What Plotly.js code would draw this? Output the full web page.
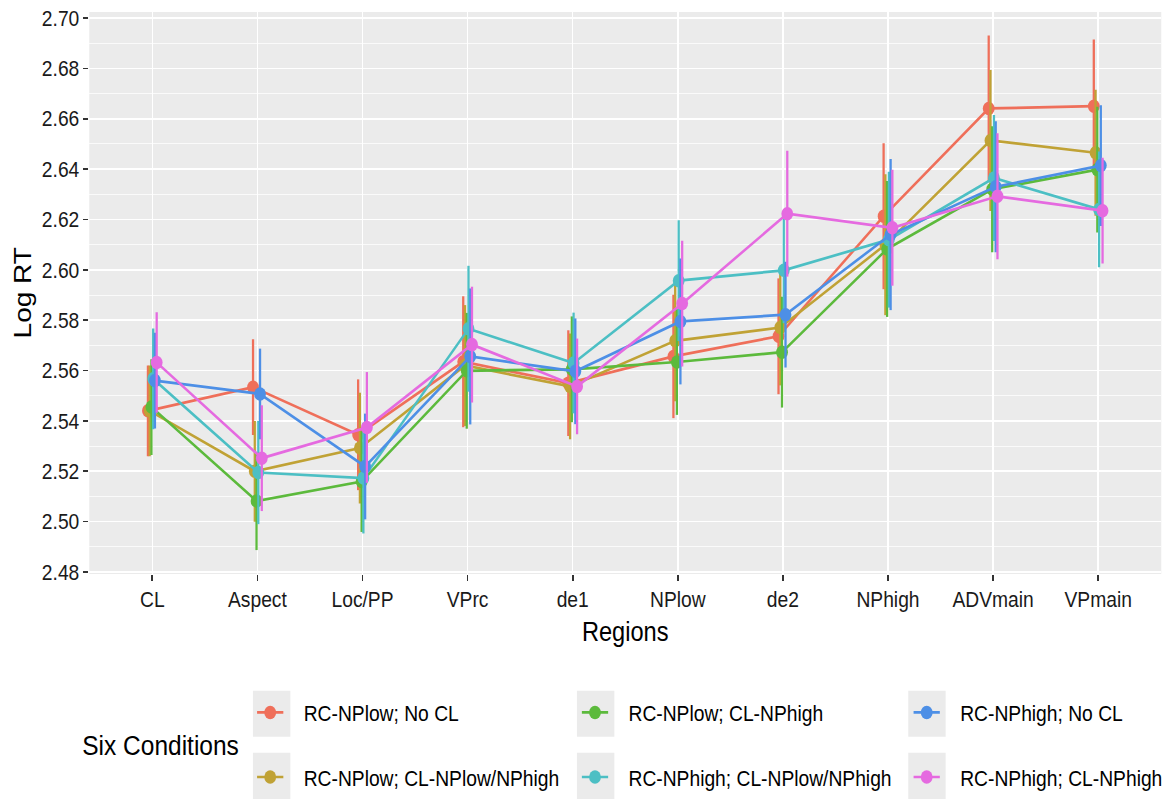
<!DOCTYPE html>
<html>
<head>
<meta charset="utf-8">
<script src="https://cdn.plot.ly/plotly-3.0.1.min.js"></script>
<style>
html,body{margin:0;padding:0;background:#fff;overflow:hidden;width:1170px;height:806px;}
#chart{width:1337px;height:806px;transform:scaleX(0.87509);transform-origin:0 0;}
</style>
</head>
<body>
<div id="chart"></div>
<script>
// Regions (x categories)
var regions = ["CL", "Aspect", "Loc/PP", "VPrc", "de1", "NPlow", "de2", "NPhigh", "ADVmain", "VPmain"];

// Condition names
var conditions = [
  "RC-NPlow; No CL",
  "RC-NPlow; CL-NPlow/NPhigh",
  "RC-NPlow; CL-NPhigh",
  "RC-NPhigh; CL-NPlow/NPhigh",
  "RC-NPhigh; No CL",
  "RC-NPhigh; CL-NPhigh"
];

// Mean log RT per condition
var npLowNoCL      = [2.5440, 2.5534, 2.5345, 2.5635, 2.5550, 2.5656, 2.5736, 2.6213, 2.6641, 2.6650];
var npLowCLBoth    = [2.5440, 2.5200, 2.5292, 2.5620, 2.5537, 2.5718, 2.5771, 2.6100, 2.6514, 2.6465];
var npLowCLHigh    = [2.5455, 2.5082, 2.5159, 2.5599, 2.5605, 2.5634, 2.5673, 2.6083, 2.6320, 2.6398];
var npHighCLBoth   = [2.5567, 2.5195, 2.5173, 2.5766, 2.5630, 2.5957, 2.5998, 2.6120, 2.6365, 2.6240];
var npHighNoCL     = [2.5560, 2.5507, 2.5219, 2.5656, 2.5597, 2.5795, 2.5822, 2.6140, 2.6330, 2.6414];
var npHighCLHigh   = [2.5632, 2.5252, 2.5374, 2.5703, 2.5537, 2.5866, 2.6223, 2.6167, 2.6292, 2.6235];

// Error (half-width of error bars)
var errNpLowNoCL    = [0.018, 0.019, 0.022, 0.026, 0.021, 0.0245, 0.023, 0.029, 0.029, 0.0265];
var errNpLowCLBoth  = [0.018, 0.020, 0.022, 0.024, 0.021, 0.024, 0.023, 0.028, 0.028, 0.025];
var errNpLowCLHigh  = [0.019, 0.0195, 0.020, 0.023, 0.021, 0.021, 0.022, 0.027, 0.025, 0.025];
var errNpHighCLBoth = [0.020, 0.0205, 0.022, 0.025, 0.020, 0.024, 0.021, 0.027, 0.025, 0.023];
var errNpHighNoCL   = [0.019, 0.018, 0.021, 0.027, 0.021, 0.025, 0.021, 0.030, 0.026, 0.024];
var errNpHighCLHigh = [0.020, 0.021, 0.022, 0.023, 0.019, 0.025, 0.025, 0.023, 0.025, 0.021];

// Y tick values
var yTicks = ["2.48","2.50","2.52","2.54","2.56","2.58","2.60","2.62","2.64","2.66","2.68","2.70"];

var series = [npLowNoCL, npLowCLBoth, npLowCLHigh, npHighCLBoth, npHighNoCL, npHighCLHigh];
var errors = [errNpLowNoCL, errNpLowCLBoth, errNpLowCLHigh, errNpHighCLBoth, errNpHighNoCL, errNpHighCLHigh];
var colors = ["#EF6F5A", "#C0A235", "#5CBA3C", "#4CBFC4", "#4D8FE6", "#E56AE0"];
var legendIds = ["legend", "legend", "legend2", "legend2", "legend3", "legend3"];

var FONT = "'Liberation Sans', Arial, Helvetica, sans-serif";
var GAP = "\u00A0\u00A0\u00A0";

var traces = series.map(function (vals, i) {
  return {
    type: "scatter",
    mode: "lines+markers",
    x: regions,
    y: vals,
    name: GAP + conditions[i],
    legend: legendIds[i],
    legendgroup: "g" + i,
    line: {color: colors[i], width: 2.7},
    marker: {color: colors[i], size: 13.5},
    error_y: {type: "data", array: errors[i], visible: true, color: colors[i], thickness: 2.6, width: 0},
    hoverinfo: "x+y+name"
  };
});

// reference-pixel helpers (fractions are independent of the horizontal squeeze)
function px2x(p) { return (p - 89) / 1072; }
function px2y(p) { return (574 - p) / 562; }
function cx(p) { return p / 1170; }
function cy(p) { return 1 - p / 806; }

var boxCentersX = [271.4, 595.4, 926.7];
var boxRows = [[690.7, 736.7], [752.7, 799]];
var shapes = [];
boxCentersX.forEach(function (c) {
  boxRows.forEach(function (r) {
    shapes.push({
      type: "rect", xref: "paper", yref: "paper", layer: "below",
      x0: px2x(c - 18.7), x1: px2x(c + 18.7),
      y0: px2y(r[0]), y1: px2y(r[1]),
      fillcolor: "#EBEBEB", line: {width: 0}
    });
  });
});

var legendCommon = {
  orientation: "v",
  xref: "container",
  yref: "container",
  yanchor: "top",
  xanchor: "left",
  y: cy(691.6),
  bgcolor: "rgba(0,0,0,0)",
  font: {family: FONT, size: 22, color: "#000"},
  tracegroupgap: 33,
  itemclick: false,
  itemdoubleclick: false
};

var S = 1170 / 1337;

var layout = {
  width: 1337,
  height: 806,
  margin: {l: 89 / S, r: 9 / S, t: 12, b: 232, autoexpand: false},
  paper_bgcolor: "#ffffff",
  plot_bgcolor: "#EBEBEB",
  font: {family: FONT, color: "#000"},
  scattermode: "group",
  scattergap: 0.9,
  xaxis: {
    type: "category",
    range: [-0.6, 9.6],
    showgrid: true,
    gridcolor: "#ffffff",
    gridwidth: 1.8,
    zeroline: false,
    showline: false,
    ticks: "outside",
    ticklen: 6,
    tickwidth: 1.9,
    tickcolor: "#333333",
    tickfont: {family: FONT, size: 22, color: "#1a1a1a"},
    title: {text: "Regions", font: {family: FONT, size: 27, color: "#000"}, standoff: 10},
    fixedrange: true
  },
  yaxis: {
    range: [2.4792, 2.7024],
    tickmode: "array",
    tickvals: yTicks.map(Number),
    ticktext: yTicks,
    showgrid: true,
    gridcolor: "#ffffff",
    gridwidth: 1.6,
    zeroline: false,
    showline: false,
    ticks: "outside",
    ticklen: 6,
    tickwidth: 1.6,
    tickcolor: "#333333",
    tickfont: {family: FONT, size: 22, color: "#1a1a1a"},
    minor: {tick0: 2.49, dtick: 0.02, showgrid: true, gridcolor: "#ffffff", gridwidth: 0.8, ticks: ""},
    fixedrange: true
  },
  legend: Object.assign({}, legendCommon, {x: cx(252.7)}),
  legend2: Object.assign({}, legendCommon, {x: cx(577.5)}),
  legend3: Object.assign({}, legendCommon, {x: cx(909.2)}),
  shapes: shapes,
  annotations: [{
    text: "Log RT",
    xref: "paper", yref: "paper",
    x: px2x(22), y: px2y(293),
    xanchor: "center", yanchor: "middle",
    textangle: -90,
    showarrow: false,
    font: {family: FONT, size: 28, color: "#000"}
  }, {
    text: "Six Conditions",
    xref: "paper", yref: "paper",
    x: px2x(160), y: px2y(745.5),
    xanchor: "center", yanchor: "middle",
    showarrow: false,
    font: {family: FONT, size: 28, color: "#000"}
  }]
};

Plotly.newPlot("chart", traces, layout, {displayModeBar: false, staticPlot: true});
</script>
</body>
</html>
